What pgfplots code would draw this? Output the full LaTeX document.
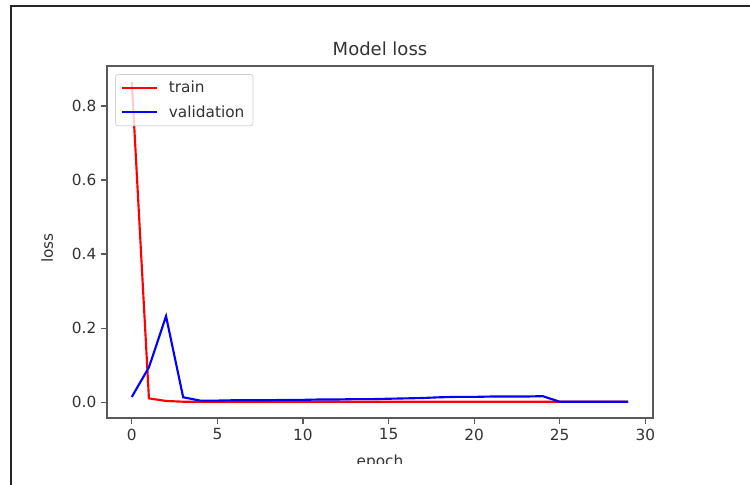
\documentclass[border=0pt]{standalone}
\usepackage{fontspec}
\setmainfont{DejaVu Sans}
\usepackage{pgfplots}
\pgfplotsset{compat=1.18}

\begin{document}
\begin{tikzpicture}
% page = 750 x 485 px, 1 px = 0.75 pt
\useasboundingbox (0pt,0pt) rectangle (562.5pt,363.75pt);
\fill[white] (0pt,0pt) rectangle (562.5pt,363.75pt);
\draw[black!85, line width=1.5pt] (8.25pt,0pt) -- (8.25pt,359pt) -- (562.5pt,359pt);
\begin{scope}
\clip (0pt,15.75pt) rectangle (562.5pt,363.75pt);
\begin{axis}[
  scale only axis,
  width=409.5pt, height=264pt,
  at={(80.25pt,50.25pt)}, anchor=south west,
  xmin=-1.45, xmax=30.45,
  ymin=-0.043, ymax=0.908,
  xtick={0,5,10,15,20,25,30},
  ytick={0,0.2,0.4,0.6,0.8},
  yticklabel style={/pgf/number format/.cd, fixed, fixed zerofill, precision=1},
  /pgf/number format/assume math mode=true,
  tick align=outside,
  major tick length=4.5pt,
  tick style={black!65, line width=0.8pt},
  axis line style={black!65, line width=0.9pt},
  ticklabel style={font=\fontsize{11.5}{13}\selectfont, text=black!80},
  xtick pos=bottom, ytick pos=left,
  title={Model loss},
  title style={font=\fontsize{13.5}{15}\selectfont, text=black!80, at={(0.5,1)}, anchor=base, yshift=1.5pt, inner sep=0pt},
  xlabel={epoch},
  xlabel style={font=\fontsize{11.5}{13}\selectfont, text=black!80, at={(axis description cs:0.5,-0.1378)}, anchor=base, inner sep=0pt},
  ylabel={loss},
  ylabel style={font=\fontsize{11.5}{13}\selectfont, text=black!80, at={(axis description cs:-0.0989,0.483)}, anchor=base, inner sep=0pt},
  legend cell align=left,
  legend style={at={(0.0147,0.977)}, anchor=north west,
    draw=black!18, line width=0.6pt, rounded corners=2pt,
    fill=white, fill opacity=0.8, draw opacity=1, text opacity=1,
    font=\fontsize{11.5}{13}\selectfont, text=black!80,
    inner xsep=4.5pt, inner ysep=3pt, row sep=4pt, column sep=6pt},
  legend image code/.code={\draw[#1, line width=1.6pt] (0pt,0pt) -- (26pt,0pt);},
]
\addplot[red, line width=1.6pt] coordinates {
  (0,0.865)(1,0.010)(2,0.003)(3,0.001)(4,0.001)(5,0.001)(6,0.001)(7,0.001)
  (8,0.001)(9,0.001)(10,0.001)(11,0.001)(12,0.001)(13,0.001)(14,0.001)
  (15,0.001)(16,0.001)(17,0.001)(18,0.001)(19,0.001)(20,0.001)(21,0.001)
  (22,0.001)(23,0.001)(24,0.001)(25,0.001)(26,0.001)(27,0.001)(28,0.001)(29,0.001)
};
\addlegendentry{train}
\addplot[blue, line width=1.6pt] coordinates {
  (0,0.014)(1,0.094)(2,0.232)(3,0.013)(4,0.004)(5,0.004)(6,0.005)(7,0.005)
  (8,0.005)(9,0.006)(10,0.006)(11,0.007)(12,0.007)(13,0.008)(14,0.008)
  (15,0.009)(16,0.010)(17,0.011)(18,0.013)(19,0.014)(20,0.014)(21,0.015)
  (22,0.015)(23,0.015)(24,0.016)(25,0.001)(26,0.001)(27,0.001)(28,0.001)(29,0.001)
};
\addlegendentry{validation}
\end{axis}
\end{scope}
\end{tikzpicture}
\end{document}
